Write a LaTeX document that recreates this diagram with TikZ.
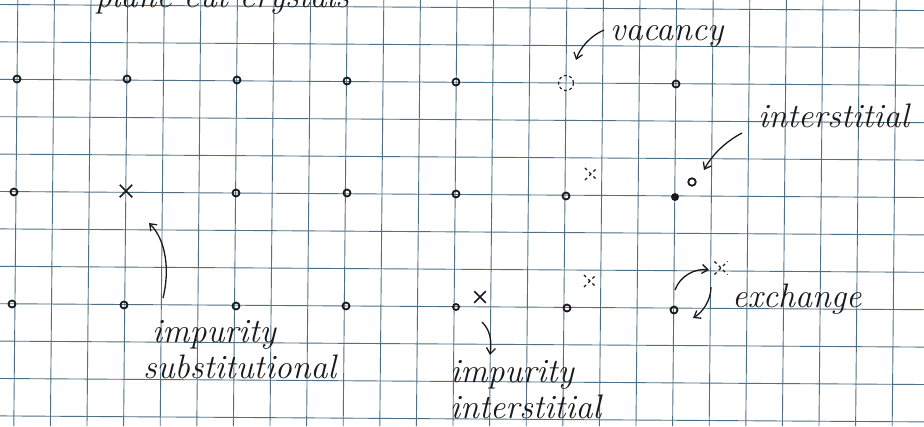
\documentclass[tikz,border=0pt]{standalone}
\usetikzlibrary{arrows.meta,shapes.misc}
\definecolor{gridc}{HTML}{4F6F85}
\definecolor{ink}{HTML}{1A1A1A}
\begin{document}
\begin{tikzpicture}[x=1pt,y=-1pt,
  atom/.style={circle,draw=ink,line width=1.8pt,inner sep=0pt,minimum size=7pt},
  vac/.style={circle,draw=ink,line width=1.1pt,inner sep=0pt,minimum size=15pt,dash pattern=on 3pt off 2.5pt},
  xmark/.style={cross out,draw=ink,line width=1.5pt,inner sep=0pt,minimum size=11pt},
  ghost/.style={cross out,draw=ink,line width=1.1pt,inner sep=0pt,minimum size=12pt,dash pattern=on 3pt off 3pt},
  lbl/.style={font=\fontsize{34}{36}\selectfont\itshape,text=ink,inner sep=0pt,anchor=base west},
  arr/.style={draw=ink,line width=1.3pt,-{Straight Barb[length=6pt,width=9pt]}},
  gridline/.style={draw=gridc,line width=0.9pt}]
\clip (0,0) rectangle (924,426);
\fill[white] (0,0) rectangle (924,426);
% squared paper
\foreach \j in {0,...,11} \draw[gridline] (0,{4.5+37.4*\j}) -- (924,{10.5+37.4*\j});
\foreach \k in {0,...,24} \draw[gridline] ({17.8+36.6*\k},0) -- ({13.8+36.6*\k},426);
% title, cut off by the top edge as in the photo
\node[lbl] (title) at (95,7) {plane cut crystals};
% row 1
\node[atom] (a11) at (17,79) {};
\node[atom] (a12) at (127,79) {};
\node[atom] (a13) at (237,80) {};
\node[atom] (a14) at (347,81) {};
\node[atom] (a15) at (456,82) {};
\node[vac]  (v)   at (566,83) {};
\node[atom] (a17) at (676,84) {};
% row 2
\node[atom] (a21) at (14,192) {};
\node[xmark] (s)  at (126,191) {};
\node[atom] (a23) at (236,193) {};
\node[atom] (a24) at (347,193) {};
\node[atom] (a25) at (456,194) {};
\node[atom] (a26) at (566,196) {};
\node[ghost,minimum size=11pt] (f1) at (591,174) {};
\node[atom,fill=ink,minimum size=6pt] (a27) at (675,197) {};
\node[atom,minimum size=7.5pt] (i) at (692,182) {};
% row 3
\node[atom] (a31) at (12,304) {};
\node[atom] (a32) at (124,305) {};
\node[atom] (a33) at (236,306) {};
\node[atom] (a34) at (346,306) {};
\node[atom,minimum size=6pt] (a35) at (456,307) {};
\node[xmark,minimum size=10pt] (x2) at (480,297) {};
\node[atom] (a36) at (567,308) {};
\node[ghost,minimum size=11pt] (f2) at (590,281) {};
\node[atom] (a37) at (674,310) {};
\node[ghost,minimum size=12pt] (f3) at (721,268) {};
% labels
\node[lbl] (lvac) at (610,40) {vacancy};
\node[lbl] (lint) at (758,127) {interstitial};
\node[lbl] (lexc) at (732,307) {exchange};
\node[lbl] (lsub1) at (152,342) {impurity};
\node[lbl] (lsub2) at (143,378) {substitutional};
\node[lbl] (lii1) at (450,382) {impurity};
\node[lbl] (lii2) at (450,418) {interstitial};
% arrow ends
\coordinate (cv0) at (604,30);  \coordinate (cv1) at (576,60);
\coordinate (ci0) at (742,133); \coordinate (ci1) at (704,170);
\coordinate (cs0) at (163,298); \coordinate (cs1) at (149,223);
\coordinate (cx0) at (482,322); \coordinate (cx1) at (490,355);
\coordinate (ce0) at (675,290); \coordinate (ce1) at (709,270);
\coordinate (ce2) at (711,287); \coordinate (ce3) at (693,318);
\draw[arr] (cv0) .. controls (590,36) and (580,48) .. (cv1);
\draw[arr] (ci0) .. controls (725,142) and (712,155) .. (ci1);
\draw[arr] (cs0) .. controls (170,270) and (166,240) .. (cs1);
\draw[arr] (cx0) .. controls (490,330) and (492,340) .. (cx1);
\draw[arr] (ce0) .. controls (680,276) and (695,268) .. (ce1);
\draw[arr] (ce2) .. controls (711,300) and (703,312) .. (ce3);
\end{tikzpicture}
\end{document}
